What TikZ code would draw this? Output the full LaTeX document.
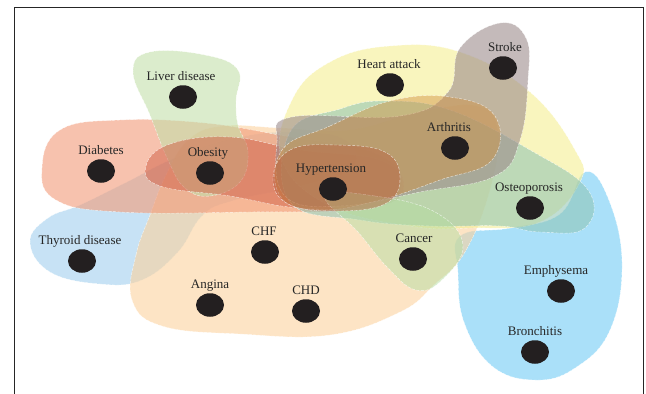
\documentclass[tikz,border=0pt]{standalone}
\usepackage{fontspec}
\setmainfont{Liberation Serif}
\usetikzlibrary{positioning}
\usetikzlibrary{shapes.geometric}

\definecolor{dotcol}{HTML}{231F20}
\definecolor{livercol}{HTML}{C3DFAA}
\definecolor{diabcol}{HTML}{F29A78}
\definecolor{bandcol}{HTML}{CF5E46}
\definecolor{hypercol}{HTML}{B8603F}
\definecolor{heartcol}{HTML}{F5EE92}
\definecolor{strokecol}{HTML}{9C8C8C}
\definecolor{arthcol}{HTML}{D08E3E}
\definecolor{osteocol}{HTML}{8DC3B2}
\definecolor{cancercol}{HTML}{B4DDA2}
\definecolor{thyrcol}{HTML}{A9D3EF}
\definecolor{peachcol}{HTML}{FCD29E}
\definecolor{lungcol}{HTML}{8ED6F7}

\begin{document}
\begin{tikzpicture}[x=1pt,y=-1pt]

\tikzstyle{blob}=[draw=white,draw opacity=0.75,line width=0.4pt,dash pattern=on 3pt off 1.5pt,fill opacity=0.65];
\tikzstyle{disease}=[ellipse,fill=dotcol,minimum width=28pt,minimum height=23.5pt,inner sep=0pt];
\tikzstyle{lbl}=[inner sep=0pt,text height=9pt,text depth=2.5pt,font=\fontsize{13pt}{15pt}\selectfont,text=black!85];

\useasboundingbox (0,0) rectangle (646,394);

% frame (open at the bottom)
\draw [line width=1pt,black!85] (14,394) -- (14,7) -- (643,7) -- (643,394);

% hyperedges
\fill [blob,fill=lungcol,fill opacity=0.75] plot [smooth cycle,tension=0.7] coordinates {(460,236) (510,228) (560,214) (585,172) (608,198) (622,262) (610,330) (575,368) (535,380) (492,366) (464,322) (458,272)};
\fill [blob,fill=thyrcol] plot [smooth cycle,tension=0.7] coordinates {(30,242) (48,218) (80,205) (125,183) (175,158) (235,138) (295,132) (345,140) (352,168) (300,186) (232,201) (202,216) (178,252) (142,280) (100,284) (50,272)};
\fill [blob,fill=peachcol,fill opacity=0.6] plot [smooth cycle,tension=0.7] coordinates {(132,300) (136,255) (150,215) (166,175) (188,140) (222,126) (282,128) (350,130) (420,112) (478,106) (498,132) (490,190) (465,252) (434,285) (400,312) (330,335) (240,334) (162,326)};
\fill [blob,fill=diabcol,fill opacity=0.6] plot [smooth cycle,tension=0.7] coordinates {(42,168) (60,130) (120,120) (205,123) (285,136) (372,152) (402,182) (370,208) (250,212) (120,212) (56,200)};
\fill [blob,fill=livercol,fill opacity=0.6] plot [smooth cycle,tension=0.7] coordinates {(150,52) (205,55) (238,70) (236,100) (238,125) (248,152) (240,182) (210,196) (185,188) (168,160) (150,115) (133,72)};
\fill [blob,fill=bandcol,fill opacity=0.5] plot [smooth cycle,tension=0.7] coordinates {(146,166) (170,144) (230,137) (300,150) (380,160) (404,186) (380,206) (300,208) (230,196) (160,186)};
\fill [blob,fill=heartcol,fill opacity=0.6] plot [smooth cycle,tension=0.7] coordinates {(292,100) (330,62) (390,46) (460,52) (530,92) (575,150) (580,182) (540,222) (470,228) (410,226) (330,206) (282,160)};
\fill [blob,fill=osteocol,fill opacity=0.55] plot [smooth cycle,tension=0.7] coordinates {(290,132) (340,109) (385,101) (450,110) (530,150) (588,190) (585,228) (540,232) (500,226) (430,226) (360,220) (290,202)};
\fill [blob,fill=strokecol,fill opacity=0.6] plot [smooth cycle,tension=0.7] coordinates {(277,142) (292,117) (400,116) (448,92) (460,48) (500,23) (526,38) (528,80) (520,140) (495,176) (420,192) (340,206) (285,196)};
\fill [blob,fill=arthcol,fill opacity=0.45] plot [smooth cycle,tension=0.7] coordinates {(282,150) (330,126) (390,101) (450,97) (495,116) (492,160) (440,180) (380,200) (320,210) (280,196)};
\fill [blob,fill=cancercol,fill opacity=0.5] plot [smooth cycle,tension=0.7] coordinates {(325,196) (375,196) (435,212) (463,245) (442,280) (416,290) (388,268) (358,232)};
\fill [blob,fill=hypercol,fill opacity=0.45] plot [smooth cycle,tension=0.7] coordinates {(273,178) (290,150) (335,145) (385,152) (400,178) (385,204) (335,211) (288,204)};

% diseases
\foreach \nm/\x/\y/\dx/\txt in {
	liver/183/97/-2/Liver disease,
	heart/390/85/-1/Heart attack,
	stroke/503/68/2/Stroke,
	diabetes/101/171/0/Diabetes,
	obesity/210/173/-2/Obesity,
	hyper/333/189/-2/Hypertension,
	arthritis/455/148/-6/Arthritis,
	osteo/530/208/-1/Osteoporosis,
	thyroid/82/261/-2/Thyroid disease,
	chf/265/252/-1/CHF,
	cancer/413/259/1/Cancer,
	angina/210/305/0/Angina,
	chd/306/311/0/CHD,
	emphysema/561/291/-5/Emphysema,
	bronchitis/535/352/0/Bronchitis}{
	\node [disease] (\nm) at (\x,\y) {};
	\node [lbl,above=1.5pt of \nm,xshift=\dx pt] (\nm-l) {\txt};
};

\end{tikzpicture}
\end{document}
